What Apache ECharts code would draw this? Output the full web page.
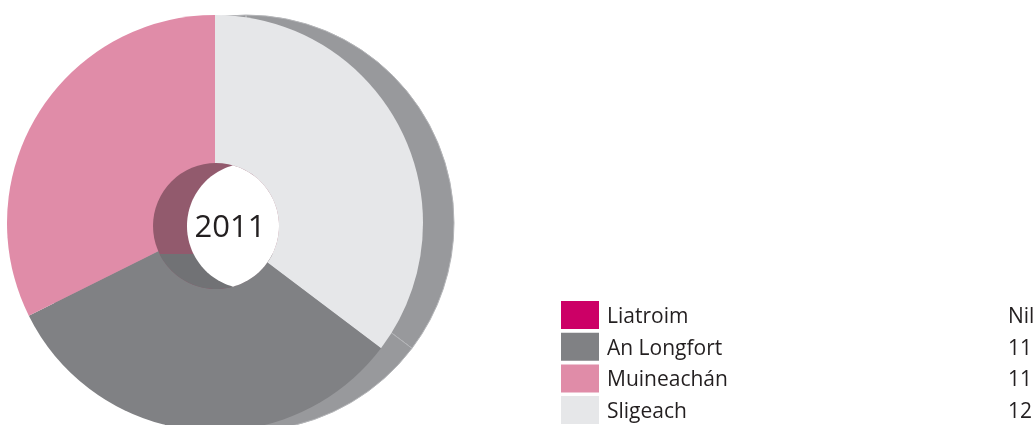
<!DOCTYPE html>
<html>
<head>
<meta charset="utf-8">
<script src="https://cdn.jsdelivr.net/npm/echarts@6/dist/echarts.min.js"></script>
<style>
    html, body {
        margin: 0;
        padding: 0;
        background: #ffffff;
    }

    #myChart {
        width: 1035px;
        height: 425px;
    }
</style>
</head>
<body>
<div id="myChart"></div>
<script>
    // data, legend order
    const categories = ['Liatroim', 'An Longfort', 'Muineachán', 'Sligeach'];
    const values = [0, 11, 11, 12];
    const valueLabels = ['Nil', '11', '11', '12'];
    const yearLabel = '2011';

    // colours
    const colors = ['#cc0066', '#808184', '#e08ca8', '#e6e7e9'];
    const sideColor = '#98999c';
    const wallPink = '#925a6d';
    const wallGrey = '#717275';
    const textColor = '#231f20';

    // clockwise from 12 o'clock
    const pieOrder = [3, 1, 2, 0];

    // geometry of the fake 3d ring
    const cx = 215, cy = 223, rOut = 208, rIn = 63;
    const sideShift = 31;
    const holeX = 216, holeY = 226, holeShift = 34;

    let myChart = echarts.init(document.getElementById('myChart'));

    let frontData = [];
    let sideData = [];
    for (let i of pieOrder) {
        frontData.push({ name: categories[i], value: values[i], itemStyle: { color: colors[i] } });
        sideData.push({ name: 'side ' + categories[i], value: values[i] });
    }

    // points along a circle arc (screen angles, radians)
    function arcPoints(x0, y0, r, a0, a1, n) {
        let pts = [];
        for (let k = 0; k <= n; k++) {
            let a = a0 + (a1 - a0) * k / n;
            pts.push([x0 + r * Math.cos(a), y0 + r * Math.sin(a)]);
        }
        return pts;
    }

    // inner wall: horizontal split where Muineachán meets An Longfort
    let total = values.reduce((a, b) => a + b, 0);
    let angle = (values[3] + values[1]) / total * Math.PI * 2;
    let dy = -rIn * Math.cos(angle);
    let segA = Math.asin(dy / rIn);
    let segPts = arcPoints(holeX, holeY, rIn, segA, Math.PI - segA, 60);

    // see-through lens = front hole ∩ back hole
    let half = Math.acos((holeShift / 2) / rIn);
    let lensPts = arcPoints(holeX, holeY, rIn, -half, half, 60)
        .concat(arcPoints(holeX + holeShift, holeY, rIn, Math.PI - half, Math.PI + half, 60));
    let lx = holeX + holeShift / 2;

    let option = {
        animation: false,
        legend: {
            orient: 'vertical',
            left: 561,
            top: 301,
            padding: 0,
            itemWidth: 38,
            itemHeight: 28,
            itemGap: 3.7,
            icon: 'rect',
            selectedMode: false,
            data: categories,
            itemStyle: { borderWidth: 0 },
            formatter: function (name) {
                return '{n|' + name + '}{v|' + valueLabels[categories.indexOf(name)] + '}';
            },
            textStyle: {
                rich: {
                    n: { width: 401, padding: [4, 0, 0, 3], fontSize: 21, lineHeight: 24, color: textColor, fontFamily: 'Open Sans' },
                    v: { fontSize: 21, padding: [4, 0, 0, 0], lineHeight: 24, color: textColor, fontFamily: 'Open Sans' }
                }
            }
        },
        graphic: {
            elements: [
                { type: 'circle', z: 100, silent: true, shape: { cx: holeX, cy: holeY, r: rIn }, style: { fill: wallPink } },
                { type: 'polygon', z: 101, silent: true, shape: { points: segPts }, style: { fill: wallGrey } },
                { type: 'polygon', z: 102, silent: true, shape: { points: lensPts }, style: { fill: '#ffffff' } },
                {
                    type: 'text', z: 103, silent: true, x: lx - 3, y: holeY + 2,
                    style: { text: yearLabel, fill: textColor, fontSize: 31, fontFamily: 'Open Sans', align: 'center', verticalAlign: 'middle' }
                }
            ]
        },
        series: [
            {
                name: 'front',
                type: 'pie',
                z: 3,
                center: [cx, cy],
                radius: [0, rOut],
                startAngle: 90,
                clockwise: true,
                silent: true,
                label: { show: false },
                labelLine: { show: false },
                itemStyle: { borderWidth: 0 },
                data: frontData
            },
            {
                name: 'side',
                type: 'pie',
                z: 1,
                center: [cx + sideShift, cy],
                radius: [0, rOut],
                startAngle: 90,
                clockwise: true,
                silent: true,
                label: { show: false },
                labelLine: { show: false },
                itemStyle: { color: sideColor, borderColor: '#b4b5b8', borderWidth: 1 },
                data: sideData
            }
        ]
    };
    myChart.setOption(option);
</script>
</body>
</html>
